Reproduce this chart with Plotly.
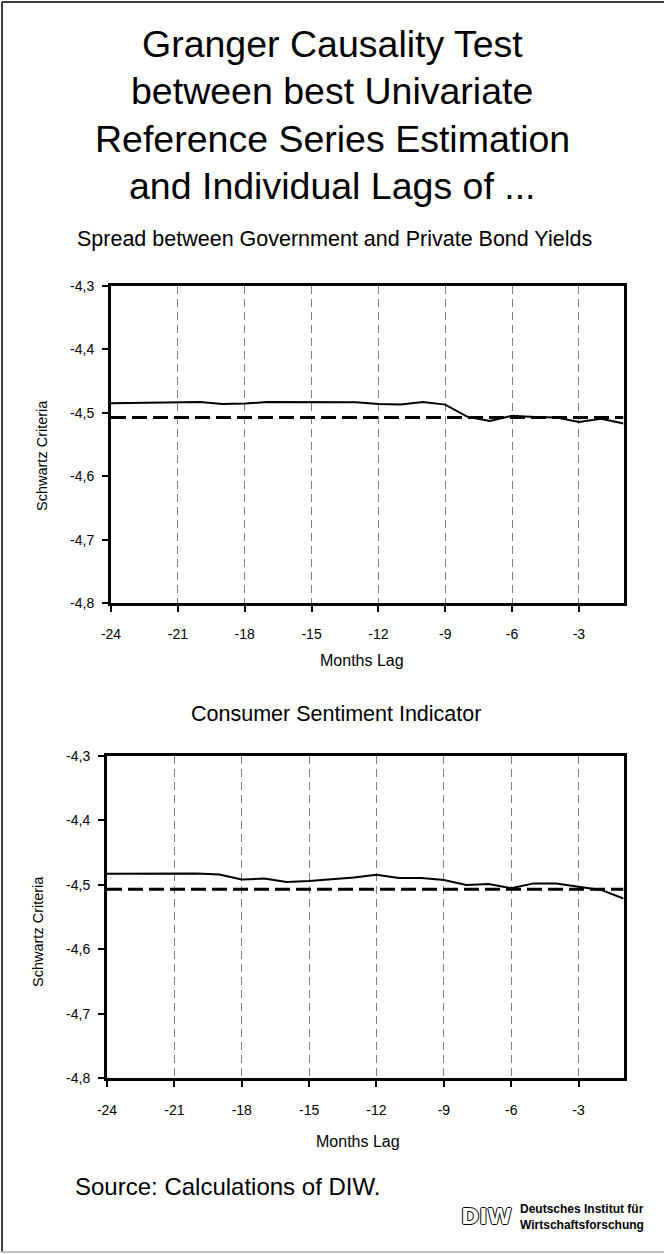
import plotly.graph_objects as go

W, H = 664, 1254

lags = list(range(-24, 0))

spread_sc = [-4.4851, -4.4846, -4.4840, -4.4840, -4.4830, -4.4862, -4.4856, -4.4830,
             -4.4830, -4.4835, -4.4830, -4.4835, -4.4862, -4.4872, -4.4830, -4.4872,
             -4.5064, -4.5128, -4.5048, -4.5069, -4.5074, -4.5144, -4.5096, -4.5170]
spread_ref = -4.5074

consumer_sc = [-4.4830, -4.4830, -4.4824, -4.4824, -4.4824, -4.4840, -4.4920, -4.4904,
               -4.4957, -4.4941, -4.4915, -4.4888, -4.4846, -4.4894, -4.4894, -4.4926,
               -4.5005, -4.4989, -4.5053, -4.4979, -4.4979, -4.5027, -4.5080, -4.5213]
consumer_ref = -4.5069

title_lines = ["Granger Causality Test", "between best Univariate",
               "Reference Series Estimation", "and Individual Lags of ..."]
panel_titles = ["Spread between Government and Private Bond Yields",
                "Consumer Sentiment Indicator"]
x_ticks = [-24, -21, -18, -15, -12, -9, -6, -3]
x_ticklabels = ["-24", "-21", "-18", "-15", "-12", "-9", "-6", "-3"]
y_ticks = [-4.8, -4.7, -4.6, -4.5, -4.4, -4.3]
y_ticklabels = ["-4,8", "-4,7", "-4,6", "-4,5", "-4,4", "-4,3"]

FONT = "Liberation Sans, Arial, sans-serif"


def px_x(p):
    return p / W


def px_y(p):
    return 1 - p / H


fig = go.Figure()

for i, (vals, ref) in enumerate([(spread_sc, spread_ref), (consumer_sc, consumer_ref)]):
    xa = "x" if i == 0 else "x2"
    ya = "y" if i == 0 else "y2"
    fig.add_trace(go.Scatter(x=[lags[0], lags[-1]], y=[ref, ref], mode="lines",
                             line=dict(color="black", width=3, dash="15px,6px"),
                             xaxis=xa, yaxis=ya, showlegend=False, hoverinfo="skip"))
    fig.add_trace(go.Scatter(x=lags, y=vals, mode="lines",
                             line=dict(color="black", width=2),
                             xaxis=xa, yaxis=ya, showlegend=False))

xcommon = dict(range=[-24, -1], tickvals=x_ticks, ticktext=x_ticklabels, showgrid=True,
               gridcolor="#808080", gridwidth=1, griddash="8px,5px", showline=True,
               linecolor="black", linewidth=3, mirror=True, ticks="outside", ticklen=6,
               tickwidth=2, tickcolor="black", zeroline=False, automargin=False,
               tickfont=dict(family=FONT, size=14, color="black"))
ycommon = dict(range=[-4.8, -4.3], tickvals=y_ticks, ticktext=y_ticklabels, showgrid=False,
               showline=True, linecolor="black", linewidth=3, mirror=True, automargin=False,
               ticks="outside", ticklen=6, tickwidth=2, tickcolor="black", zeroline=False,
               tickfont=dict(family=FONT, size=14, color="black"))

fig.update_layout(
    width=W, height=H, margin=dict(l=0, r=0, t=0, b=0, pad=0, autoexpand=False),
    paper_bgcolor="white", plot_bgcolor="white",
    xaxis=dict(domain=[px_x(111), px_x(623.5)], anchor="y", ticklabelstandoff=10, **xcommon),
    yaxis=dict(domain=[px_y(603.3), px_y(285.7)], anchor="x", ticklabelstandoff=5, **ycommon),
    xaxis2=dict(domain=[px_x(107), px_x(623.5)], anchor="y2", ticklabelstandoff=11, **xcommon),
    yaxis2=dict(domain=[px_y(1078.3), px_y(755.7)], anchor="x2", ticklabelstandoff=5, **ycommon),
)

ann = []
for line, cy in zip(title_lines, [44, 91, 138.5, 186]):
    ann.append(dict(text=line, x=0.5, y=px_y(cy), xref="paper", yref="paper",
                    xanchor="center", yanchor="middle", showarrow=False,
                    font=dict(family=FONT, size=37.5, color="black")))
ann.append(dict(text=panel_titles[0], x=px_x(334.5), y=px_y(239), xref="paper", yref="paper",
                xanchor="center", yanchor="middle", showarrow=False,
                font=dict(family=FONT, size=21.5, color="black")))
ann.append(dict(text=panel_titles[1], x=px_x(336), y=px_y(714), xref="paper", yref="paper",
                xanchor="center", yanchor="middle", showarrow=False,
                font=dict(family=FONT, size=21.5, color="black")))
for cx, cy in [(361.5, 660.5), (358, 1141.5)]:
    ann.append(dict(text="Months Lag", x=px_x(cx), y=px_y(cy), xref="paper", yref="paper",
                    xanchor="center", yanchor="middle", showarrow=False,
                    font=dict(family=FONT, size=16, color="black")))
for cx, cy in [(42, 456), (38, 932)]:
    ann.append(dict(text="Schwartz Criteria", x=px_x(cx), y=px_y(cy), xref="paper", yref="paper",
                    xanchor="center", yanchor="middle", showarrow=False, textangle=-90,
                    font=dict(family=FONT, size=14.5, color="black")))
ann.append(dict(text="Source: Calculations of DIW.", x=px_x(73), y=px_y(1186), xref="paper",
                yref="paper", xanchor="left", yanchor="middle", showarrow=False,
                font=dict(family=FONT, size=24, color="black")))
ann.append(dict(text="<b>DIW</b>", x=px_x(459), y=px_y(1216), xref="paper", yref="paper",
                xanchor="left", yanchor="middle", showarrow=False,
                font=dict(family="DejaVu Sans, sans-serif", size=22, color="white",
                          shadow="1px 0 0 #000, -1px 0 0 #000, 0 1px 0 #000, 0 -1px 0 #000")))
ann.append(dict(text="<b>Deutsches Institut für<br>Wirtschaftsforschung</b>", x=px_x(518),
                y=px_y(1217), xref="paper", yref="paper", xanchor="left", yanchor="middle",
                align="left", showarrow=False,
                font=dict(family=FONT, size=12, color="black")))
fig.update_layout(annotations=ann)

shapes = [
    dict(type="line", xref="paper", yref="paper", x0=px_x(2), x1=px_x(2), y0=px_y(2), y1=px_y(1252),
         line=dict(color="black", width=1.5)),
    dict(type="line", xref="paper", yref="paper", x0=px_x(2), x1=1, y0=px_y(2), y1=px_y(2),
         line=dict(color="black", width=1.5)),
    dict(type="line", xref="paper", yref="paper", x0=px_x(2), x1=1, y0=px_y(1252), y1=px_y(1252),
         line=dict(color="#c0c0c0", width=2)),
]
fig.update_layout(shapes=shapes)

fig.write_html("out.html", config={"displayModeBar": False},
               post_script="document.documentElement.style.margin='0';"
                           "document.body.style.margin='0';document.body.style.padding='0';"
                           "document.body.style.overflow='hidden';")
